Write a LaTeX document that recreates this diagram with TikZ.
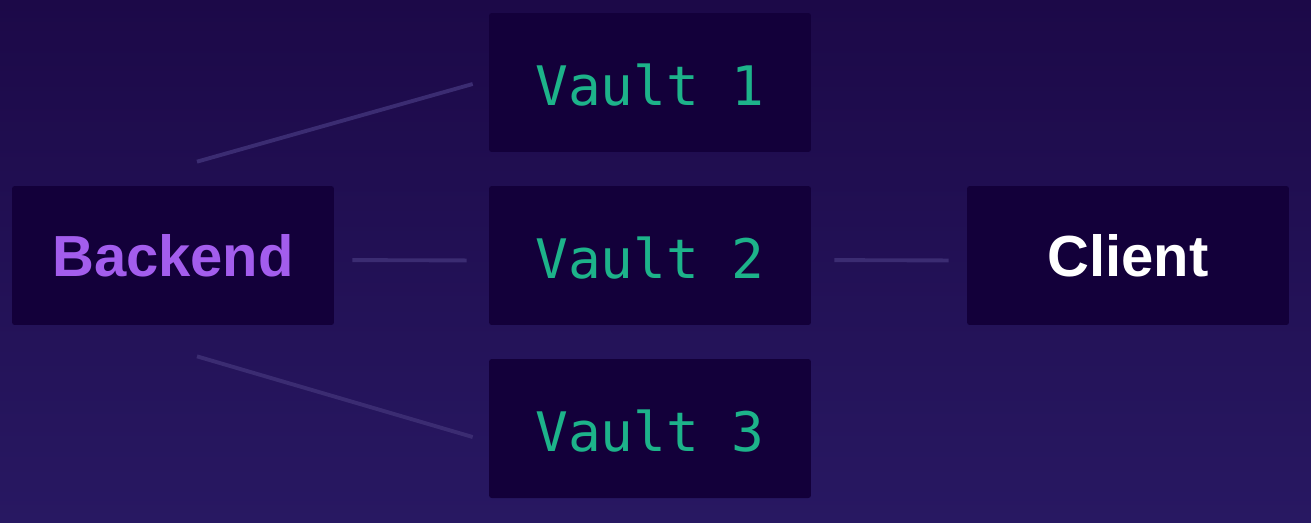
\documentclass[tikz,border=0pt]{standalone}
\usepackage{fontspec}
\usepackage{tikz}
\usepackage{xcolor}
\usetikzlibrary{calc}
\setmainfont{Liberation Sans}
\newfontfamily\vaultfont{DejaVu Sans Mono}
\definecolor{bgtop}{HTML}{1C0948}
\definecolor{bgbottom}{HTML}{281862}
\definecolor{boxfill}{HTML}{13003A}
\definecolor{vaultgreen}{HTML}{1DB38A}
\definecolor{backendpurple}{HTML}{A35DED}
\definecolor{linkline}{HTML}{3B2C72}
\tikzset{
  block/.style={fill=boxfill, rounded corners=1.5pt, minimum width=6.44cm, minimum height=2.78cm, inner sep=0pt},
  vaultbox/.style={block, text=vaultgreen, font=\vaultfont\fontsize{31}{36}\selectfont, text depth=0.1cm},
  namebox/.style={block, font=\bfseries\fontsize{33}{36}\selectfont},
  link/.style={draw=linkline, line width=2.2pt}
}

\begin{document}
\begin{tikzpicture}[x=0.02cm,y=-0.02cm]
\shade[top color=bgtop, bottom color=bgbottom] (0,0) rectangle (1311,522);
\useasboundingbox (0,0) rectangle (1311,522);
% boxes
\node[namebox, text=backendpurple] (backend) at (173,255.5) {Backend};
\node[vaultbox] (vault1) at (650,82.5) {\raisebox{-0.2cm}{Vault 1}};
\node[vaultbox] (vault2) at (650,255.5) {\raisebox{-0.2cm}{Vault 2}};
\node[vaultbox] (vault3) at (650,428.5) {\raisebox{-0.2cm}{Vault 3}};
\node[namebox, text=white] (client) at (1128,255.5) {Client};
% line ends
\coordinate (b1) at ($(backend.north)+(24,-24)$);
\coordinate (v1) at ($(vault1.west)+(-16,1.5)$);
\coordinate (b3) at ($(backend.south)+(24,31)$);
\coordinate (v3) at ($(vault3.west)+(-16,8.5)$);
% links
\draw[link] (b1) -- (v1);
\draw[link] (b3) -- (v3);
\draw[link, shorten <=0.36cm, shorten >=0.44cm] ([yshift=-0.09cm]backend.east) -- ([yshift=-0.1cm]vault2.west);
\draw[link, shorten <=0.46cm, shorten >=0.36cm] ([yshift=-0.09cm]vault2.east) -- ([yshift=-0.1cm]client.west);
\end{tikzpicture}
\end{document}
